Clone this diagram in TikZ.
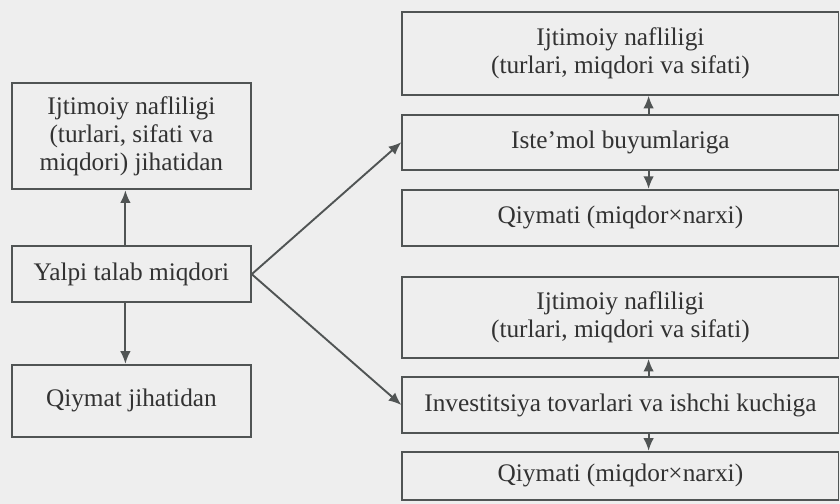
\documentclass[tikz,border=0pt]{standalone}
\usepackage{fontspec}
\setmainfont{Liberation Serif}
\usetikzlibrary{arrows.meta}
\definecolor{fond}{RGB}{238,238,238}
\definecolor{trait}{RGB}{80,84,84}
\definecolor{texte}{RGB}{50,50,50}
\begin{document}
\begin{tikzpicture}[
	boite/.style={draw=trait, line width=0.9pt, text=texte, align=center, inner sep=2pt,
		font=\fontsize{12}{13.4}\selectfont},
	fleche/.style={draw=trait, line width=0.9pt, -{Latex[length=6pt,width=5pt]}}]
			\fill[fond] (0,0) rectangle (14,8.4);
			\useasboundingbox (0,0) rectangle (14,8.4);
			%Noeuds de gauche
			\node[boite, minimum width=3.98cm, minimum height=1.77cm] (G1) at (2.19,6.13) {Ijtimoiy nafliligi\\(turlari, sifati va\\miqdori) jihatidan};
			\node[boite, minimum width=3.98cm, minimum height=0.93cm] (G0) at (2.19,3.83) {Yalpi talab miqdori};
			\node[boite, minimum width=3.98cm, minimum height=1.2cm] (G2) at (2.19,1.72) {Qiymat jihatidan};
			%Noeuds de droite
			\node[boite, minimum width=7.27cm, minimum height=1.38cm] (D11) at (10.34,7.51) {Ijtimoiy nafliligi\\(turlari, miqdori va sifati)};
			\node[boite, minimum width=7.27cm, minimum height=0.92cm] (D12) at (10.34,6.03) {Iste’mol buyumlariga};
			\node[boite, minimum width=7.27cm, minimum height=0.93cm] (D13) at (10.34,4.77) {Qiymati (miqdor×narxi)};
			\node[boite, minimum width=7.27cm, minimum height=1.35cm] (D21) at (10.34,3.11) {Ijtimoiy nafliligi\\(turlari, miqdori va sifati)};
			\node[boite, minimum width=7.27cm, minimum height=0.93cm] (D22) at (10.34,1.65) {Investitsiya tovarlari va ishchi kuchiga};
			\node[boite, minimum width=7.27cm, minimum height=0.8cm] (D23) at (10.34,0.47) {Qiymati (miqdor×narxi)};
			%Flèches
			\draw[fleche] ([xshift=-0.1cm]G0.north) -- ([xshift=-0.1cm]G1.south);
			\draw[fleche] ([xshift=-0.1cm]G0.south) -- ([xshift=-0.1cm]G2.north);
			\draw[fleche] (G0.east) -- (D12.west);
			\draw[fleche] (G0.east) -- (D22.west);
			\draw[fleche] ([xshift=0.47cm]D12.north) -- ([xshift=0.47cm]D11.south);
			\draw[fleche] ([xshift=0.47cm]D12.south) -- ([xshift=0.47cm]D13.north);
			\draw[fleche] ([xshift=0.47cm]D22.north) -- ([xshift=0.47cm]D21.south);
			\draw[fleche] ([xshift=0.47cm]D22.south) -- ([xshift=0.47cm]D23.north);
		\end{tikzpicture}
\end{document}
